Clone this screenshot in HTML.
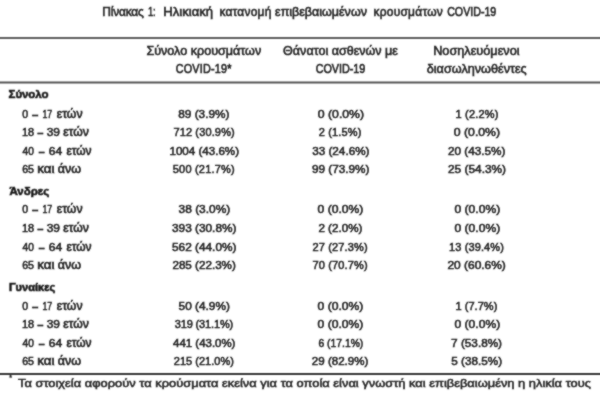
<!DOCTYPE html>
<html><head><meta charset="utf-8"><style>
html,body{margin:0;padding:0;background:#fff;}
body{width:600px;height:400px;overflow:hidden;}
#w{position:absolute;left:0;top:0;width:600px;height:400px;}
svg{display:block;}
text{font-family:"Liberation Sans",sans-serif;fill:#262626;stroke:#262626;stroke-width:0.55;}
</style></head><body><div id="w">
<svg width="600" height="400" viewBox="0 0 600 400"><defs><filter id="b" x="0" y="0" width="600" height="400" filterUnits="userSpaceOnUse"><feConvolveMatrix order="3" kernelMatrix="1 2 1 2 12 2 1 2 1" divisor="24" preserveAlpha="false"/></filter></defs><g filter="url(#b)">
<rect x="0" y="37" width="600" height="2" fill="#5e5e5e"/>
<rect x="0" y="81.5" width="600" height="2" fill="#555"/>
<rect x="0" y="373" width="600" height="2" fill="#383838"/>
<text x="9.2" y="380" font-size="7" style="stroke-width:0.4">*</text>
<text transform="translate(102.23,15.70) scale(1,1.024)" font-size="12" textLength="41.65" lengthAdjust="spacing">Πίνακας</text>
<text transform="translate(147.88,15.70) scale(1,1.024)" font-size="12" textLength="7.80" lengthAdjust="spacingAndGlyphs">1:</text>
<text transform="translate(163.34,15.70) scale(1,1.024)" font-size="12" textLength="49.73" lengthAdjust="spacingAndGlyphs">Ηλικιακή</text>
<text transform="translate(219.41,15.70) scale(1,1.024)" font-size="12" textLength="51.89" lengthAdjust="spacing">κατανομή</text>
<text transform="translate(275.07,15.70) scale(1,1.024)" font-size="12" textLength="91.85" lengthAdjust="spacingAndGlyphs">επιβεβαιωμένων</text>
<text transform="translate(373.62,15.70) scale(1,1.024)" font-size="12" textLength="69.10" lengthAdjust="spacing">κρουσμάτων</text>
<text transform="translate(447.17,15.70) scale(1,1.117)" font-size="11" textLength="49.10" lengthAdjust="spacingAndGlyphs">COVID-19</text>
<text transform="translate(146.38,55.20) scale(1,0.989)" font-size="12" textLength="114.85" lengthAdjust="spacingAndGlyphs">Σύνολο κρουσμάτων</text>
<text transform="translate(175.66,73.20) scale(1,1.099)" font-size="10.8" textLength="55.83" lengthAdjust="spacing">COVID-19*</text>
<text transform="translate(283.08,55.20) scale(1,0.989)" font-size="12" textLength="114.86" lengthAdjust="spacingAndGlyphs">Θάνατοι ασθενών με</text>
<text transform="translate(315.66,73.20) scale(1,1.099)" font-size="10.8" textLength="49.61" lengthAdjust="spacing">COVID-19</text>
<text transform="translate(433.17,55.20) scale(1,0.989)" font-size="12" textLength="86.40" lengthAdjust="spacingAndGlyphs">Νοσηλευόμενοι</text>
<text transform="translate(426.77,73.20) scale(1,0.989)" font-size="12" textLength="99.93" lengthAdjust="spacingAndGlyphs">διασωληνωθέντες</text>
<text transform="translate(8.56,98.30) scale(1,1.008)" font-size="11.5" font-weight="bold" style="stroke-width:0.6;fill:#1a1a1a;stroke:#1a1a1a" textLength="39.96" lengthAdjust="spacing">Σύνολο</text>
<text transform="translate(22.34,117.80) scale(1,1.003)" font-size="11" textLength="5.86" lengthAdjust="spacingAndGlyphs">0</text>
<text transform="translate(32.46,117.80) scale(1,1.003)" font-size="11" style="stroke-width:0.9" textLength="5.31" lengthAdjust="spacingAndGlyphs">–</text>
<text transform="translate(42.42,117.80) scale(1,1.003)" font-size="11" textLength="9.78" lengthAdjust="spacingAndGlyphs">17</text>
<text transform="translate(56.78,117.80) scale(1,1.120)" font-size="11" textLength="25.73" lengthAdjust="spacingAndGlyphs">ετών</text>
<text transform="translate(178.30,117.80) scale(1,1.003)" font-size="11" textLength="51.05" lengthAdjust="spacingAndGlyphs">89 (3.9%)</text>
<text transform="translate(317.78,117.80) scale(1,1.003)" font-size="11" textLength="46.29" lengthAdjust="spacingAndGlyphs">0 (0.0%)</text>
<text transform="translate(455.48,117.80) scale(1,1.003)" font-size="11" textLength="42.93" lengthAdjust="spacing">1 (2.2%)</text>
<text transform="translate(21.98,135.90) scale(1,1.003)" font-size="11" textLength="12.05" lengthAdjust="spacing">18</text>
<text transform="translate(37.66,135.90) scale(1,1.003)" font-size="11" style="stroke-width:0.9" textLength="5.21" lengthAdjust="spacingAndGlyphs">–</text>
<text transform="translate(46.69,135.90) scale(1,1.003)" font-size="11" textLength="13.33" lengthAdjust="spacingAndGlyphs">39</text>
<text transform="translate(63.18,135.90) scale(1,1.120)" font-size="11" textLength="25.63" lengthAdjust="spacingAndGlyphs">ετών</text>
<text transform="translate(173.40,135.90) scale(1,1.003)" font-size="11" textLength="61.30" lengthAdjust="spacing">712 (30.9%)</text>
<text transform="translate(318.65,135.90) scale(1,1.003)" font-size="11" textLength="42.75" lengthAdjust="spacing">2 (1.5%)</text>
<text transform="translate(453.78,135.90) scale(1,1.003)" font-size="11" textLength="46.29" lengthAdjust="spacingAndGlyphs">0 (0.0%)</text>
<text transform="translate(22.51,154.80) scale(1,1.003)" font-size="11" textLength="11.33" lengthAdjust="spacingAndGlyphs">40</text>
<text transform="translate(38.91,154.80) scale(1,1.003)" font-size="11" style="stroke-width:0.9" textLength="5.26" lengthAdjust="spacingAndGlyphs">–</text>
<text transform="translate(48.80,154.80) scale(1,1.003)" font-size="11" textLength="13.33" lengthAdjust="spacingAndGlyphs">64</text>
<text transform="translate(66.39,154.80) scale(1,1.120)" font-size="11" textLength="25.22" lengthAdjust="spacingAndGlyphs">ετών</text>
<text transform="translate(169.44,154.80) scale(1,1.003)" font-size="11" textLength="69.59" lengthAdjust="spacingAndGlyphs">1004 (43.6%)</text>
<text transform="translate(312.20,154.80) scale(1,1.003)" font-size="11" textLength="57.24" lengthAdjust="spacingAndGlyphs">33 (24.6%)</text>
<text transform="translate(448.01,154.80) scale(1,1.003)" font-size="11" textLength="57.43" lengthAdjust="spacingAndGlyphs">20 (43.5%)</text>
<text transform="translate(22.17,172.80) scale(1,1.003)" font-size="11" textLength="11.85" lengthAdjust="spacingAndGlyphs">65</text>
<text transform="translate(37.13,172.80) scale(1,1.120)" font-size="11" textLength="17.26" lengthAdjust="spacingAndGlyphs">και</text>
<text transform="translate(57.77,172.80) scale(1,1.120)" font-size="11" textLength="23.35" lengthAdjust="spacingAndGlyphs">άνω</text>
<text transform="translate(172.82,172.80) scale(1,1.003)" font-size="11" textLength="61.88" lengthAdjust="spacing">500 (21.7%)</text>
<text transform="translate(312.01,172.80) scale(1,1.003)" font-size="11" textLength="57.43" lengthAdjust="spacingAndGlyphs">99 (73.9%)</text>
<text transform="translate(448.01,172.80) scale(1,1.003)" font-size="11" textLength="58.04" lengthAdjust="spacingAndGlyphs">25 (54.3%)</text>
<text transform="translate(9.49,195.00) scale(1,1.008)" font-size="11.5" font-weight="bold" style="stroke-width:0.6;fill:#1a1a1a;stroke:#1a1a1a" textLength="39.76" lengthAdjust="spacing">Άνδρες</text>
<text transform="translate(22.34,213.20) scale(1,1.003)" font-size="11" textLength="5.86" lengthAdjust="spacingAndGlyphs">0</text>
<text transform="translate(32.46,213.20) scale(1,1.003)" font-size="11" style="stroke-width:0.9" textLength="5.31" lengthAdjust="spacingAndGlyphs">–</text>
<text transform="translate(42.42,213.20) scale(1,1.003)" font-size="11" textLength="9.78" lengthAdjust="spacingAndGlyphs">17</text>
<text transform="translate(56.78,213.20) scale(1,1.120)" font-size="11" textLength="25.73" lengthAdjust="spacingAndGlyphs">ετών</text>
<text transform="translate(178.59,213.20) scale(1,1.003)" font-size="11" textLength="51.66" lengthAdjust="spacingAndGlyphs">38 (3.0%)</text>
<text transform="translate(317.59,213.20) scale(1,1.003)" font-size="11" textLength="45.78" lengthAdjust="spacingAndGlyphs">0 (0.0%)</text>
<text transform="translate(454.49,213.20) scale(1,1.003)" font-size="11" textLength="45.67" lengthAdjust="spacingAndGlyphs">0 (0.0%)</text>
<text transform="translate(21.98,232.00) scale(1,1.003)" font-size="11" textLength="12.05" lengthAdjust="spacing">18</text>
<text transform="translate(37.66,232.00) scale(1,1.003)" font-size="11" style="stroke-width:0.9" textLength="5.21" lengthAdjust="spacingAndGlyphs">–</text>
<text transform="translate(46.69,232.00) scale(1,1.003)" font-size="11" textLength="13.33" lengthAdjust="spacingAndGlyphs">39</text>
<text transform="translate(63.18,232.00) scale(1,1.120)" font-size="11" textLength="25.63" lengthAdjust="spacingAndGlyphs">ετών</text>
<text transform="translate(172.00,232.00) scale(1,1.003)" font-size="11" textLength="64.45" lengthAdjust="spacingAndGlyphs">393 (30.8%)</text>
<text transform="translate(318.42,232.00) scale(1,1.003)" font-size="11" textLength="43.92" lengthAdjust="spacingAndGlyphs">2 (2.0%)</text>
<text transform="translate(454.49,232.00) scale(1,1.003)" font-size="11" textLength="45.67" lengthAdjust="spacingAndGlyphs">0 (0.0%)</text>
<text transform="translate(22.51,250.80) scale(1,1.003)" font-size="11" textLength="11.33" lengthAdjust="spacingAndGlyphs">40</text>
<text transform="translate(38.91,250.80) scale(1,1.003)" font-size="11" style="stroke-width:0.9" textLength="5.26" lengthAdjust="spacingAndGlyphs">–</text>
<text transform="translate(48.80,250.80) scale(1,1.003)" font-size="11" textLength="13.33" lengthAdjust="spacingAndGlyphs">64</text>
<text transform="translate(66.39,250.80) scale(1,1.120)" font-size="11" textLength="25.22" lengthAdjust="spacingAndGlyphs">ετών</text>
<text transform="translate(172.00,250.80) scale(1,1.003)" font-size="11" textLength="64.45" lengthAdjust="spacingAndGlyphs">562 (44.0%)</text>
<text transform="translate(312.45,250.80) scale(1,1.003)" font-size="11" textLength="55.15" lengthAdjust="spacing">27 (27.3%)</text>
<text transform="translate(449.08,250.80) scale(1,1.003)" font-size="11" textLength="54.83" lengthAdjust="spacing">13 (39.4%)</text>
<text transform="translate(22.17,268.90) scale(1,1.003)" font-size="11" textLength="11.85" lengthAdjust="spacingAndGlyphs">65</text>
<text transform="translate(37.13,268.90) scale(1,1.120)" font-size="11" textLength="17.26" lengthAdjust="spacingAndGlyphs">και</text>
<text transform="translate(57.77,268.90) scale(1,1.120)" font-size="11" textLength="23.35" lengthAdjust="spacingAndGlyphs">άνω</text>
<text transform="translate(172.42,268.90) scale(1,1.003)" font-size="11" textLength="63.42" lengthAdjust="spacingAndGlyphs">285 (22.3%)</text>
<text transform="translate(312.45,268.90) scale(1,1.003)" font-size="11" textLength="55.15" lengthAdjust="spacing">70 (70.7%)</text>
<text transform="translate(447.40,268.90) scale(1,1.003)" font-size="11" textLength="58.45" lengthAdjust="spacingAndGlyphs">20 (60.6%)</text>
<text transform="translate(8.97,291.10) scale(1,1.008)" font-size="11.5" font-weight="bold" style="stroke-width:0.6;fill:#1a1a1a;stroke:#1a1a1a" textLength="46.25" lengthAdjust="spacingAndGlyphs">Γυναίκες</text>
<text transform="translate(22.34,309.50) scale(1,1.003)" font-size="11" textLength="5.86" lengthAdjust="spacingAndGlyphs">0</text>
<text transform="translate(32.46,309.50) scale(1,1.003)" font-size="11" style="stroke-width:0.9" textLength="5.31" lengthAdjust="spacingAndGlyphs">–</text>
<text transform="translate(42.42,309.50) scale(1,1.003)" font-size="11" textLength="9.78" lengthAdjust="spacingAndGlyphs">17</text>
<text transform="translate(56.78,309.50) scale(1,1.120)" font-size="11" textLength="25.73" lengthAdjust="spacingAndGlyphs">ετών</text>
<text transform="translate(178.60,309.50) scale(1,1.003)" font-size="11" textLength="51.25" lengthAdjust="spacingAndGlyphs">50 (4.9%)</text>
<text transform="translate(317.59,309.50) scale(1,1.003)" font-size="11" textLength="45.78" lengthAdjust="spacingAndGlyphs">0 (0.0%)</text>
<text transform="translate(455.48,309.50) scale(1,1.003)" font-size="11" textLength="41.83" lengthAdjust="spacing">1 (7.7%)</text>
<text transform="translate(21.98,327.60) scale(1,1.003)" font-size="11" textLength="12.05" lengthAdjust="spacing">18</text>
<text transform="translate(37.66,327.60) scale(1,1.003)" font-size="11" style="stroke-width:0.9" textLength="5.21" lengthAdjust="spacingAndGlyphs">–</text>
<text transform="translate(46.69,327.60) scale(1,1.003)" font-size="11" textLength="13.33" lengthAdjust="spacingAndGlyphs">39</text>
<text transform="translate(63.18,327.60) scale(1,1.120)" font-size="11" textLength="25.63" lengthAdjust="spacingAndGlyphs">ετών</text>
<text transform="translate(174.82,327.60) scale(1,1.003)" font-size="11" textLength="58.38" lengthAdjust="spacing">319 (31.1%)</text>
<text transform="translate(317.59,327.60) scale(1,1.003)" font-size="11" textLength="45.78" lengthAdjust="spacingAndGlyphs">0 (0.0%)</text>
<text transform="translate(454.49,327.60) scale(1,1.003)" font-size="11" textLength="45.67" lengthAdjust="spacingAndGlyphs">0 (0.0%)</text>
<text transform="translate(22.51,346.50) scale(1,1.003)" font-size="11" textLength="11.33" lengthAdjust="spacingAndGlyphs">40</text>
<text transform="translate(38.91,346.50) scale(1,1.003)" font-size="11" style="stroke-width:0.9" textLength="5.26" lengthAdjust="spacingAndGlyphs">–</text>
<text transform="translate(48.80,346.50) scale(1,1.003)" font-size="11" textLength="13.33" lengthAdjust="spacingAndGlyphs">64</text>
<text transform="translate(66.39,346.50) scale(1,1.120)" font-size="11" textLength="25.22" lengthAdjust="spacingAndGlyphs">ετών</text>
<text transform="translate(173.09,346.50) scale(1,1.003)" font-size="11" textLength="62.34" lengthAdjust="spacingAndGlyphs">441 (43.0%)</text>
<text transform="translate(318.48,346.50) scale(1,1.003)" font-size="11" textLength="44.79" lengthAdjust="spacingAndGlyphs">6 (17.1%)</text>
<text transform="translate(451.11,346.50) scale(1,1.003)" font-size="11" textLength="50.93" lengthAdjust="spacingAndGlyphs">7 (53.8%)</text>
<text transform="translate(22.17,364.80) scale(1,1.003)" font-size="11" textLength="11.85" lengthAdjust="spacingAndGlyphs">65</text>
<text transform="translate(37.13,364.80) scale(1,1.120)" font-size="11" textLength="17.26" lengthAdjust="spacingAndGlyphs">και</text>
<text transform="translate(57.77,364.80) scale(1,1.120)" font-size="11" textLength="23.35" lengthAdjust="spacingAndGlyphs">άνω</text>
<text transform="translate(173.75,364.80) scale(1,1.003)" font-size="11" textLength="60.15" lengthAdjust="spacing">215 (21.0%)</text>
<text transform="translate(311.82,364.80) scale(1,1.003)" font-size="11" textLength="56.51" lengthAdjust="spacingAndGlyphs">29 (82.9%)</text>
<text transform="translate(451.30,364.80) scale(1,1.003)" font-size="11" textLength="50.74" lengthAdjust="spacingAndGlyphs">5 (38.5%)</text>
<text transform="translate(17.96,387.00) scale(1,0.931)" font-size="12" textLength="573.04" lengthAdjust="spacingAndGlyphs">Τα στοιχεία αφορούν τα κρούσματα εκείνα για τα οποία είναι γνωστή και επιβεβαιωμένη η ηλικία τους</text>
</g></svg></div></body></html>
